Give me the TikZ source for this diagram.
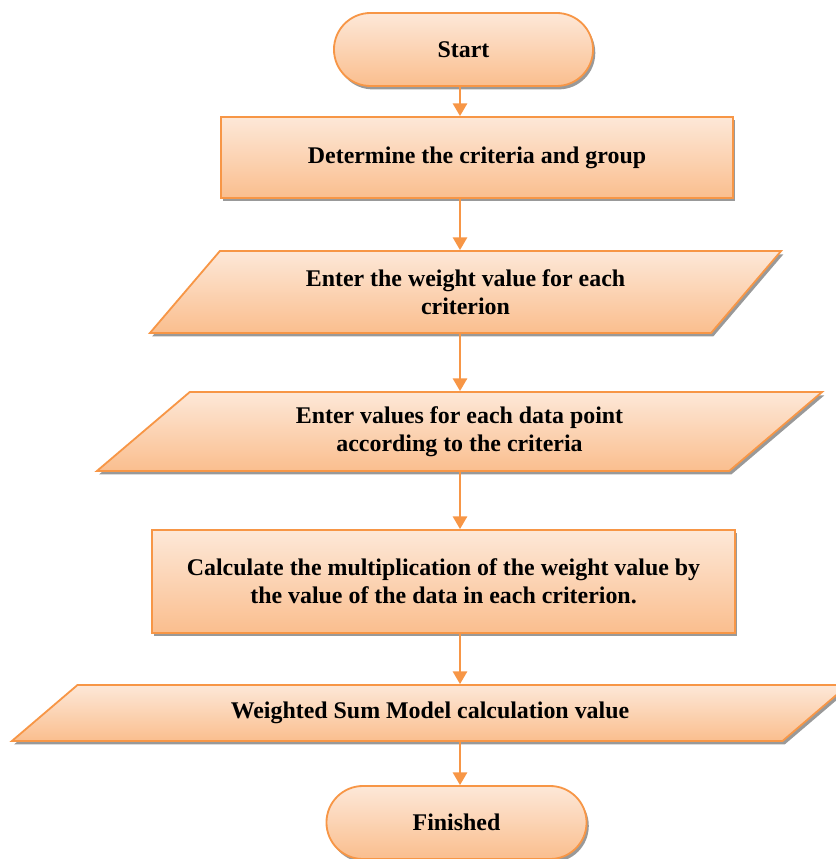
\documentclass[tikz,border=0pt]{standalone}
\usepackage{fontspec}
\setmainfont{Liberation Serif}
\usetikzlibrary{arrows.meta,shapes.misc,shapes.geometric,shadows}

\definecolor{orline}{RGB}{247,150,70}
\definecolor{ortop}{RGB}{253,232,216}
\definecolor{orbot}{RGB}{250,190,142}

\begin{document}
\begin{tikzpicture}[x=0.025cm, y=-0.025cm,
    every node/.style = {draw=orline, line width=1.3pt, align=center,
    top color=ortop, bottom color=orbot, inner sep=0pt,
    font=\fontsize{17}{20}\selectfont\bfseries,
    drop shadow={shadow xshift=1.6pt, shadow yshift=-2.4pt, fill=black, opacity=0.4}},
    term/.style={rounded rectangle},
    proc/.style={rectangle},
    io/.style={trapezium, trapezium stretches body, trapezium left angle=#1,
    trapezium right angle=180-#1},
    flow/.style={draw=orline, line width=1.4pt,
    -{Triangle[width=0.36cm,length=0.32cm]}}]
    \useasboundingbox (0,0) rectangle (835,859);
    \coordinate (spine) at (460,0);
    \node[term, minimum width=6.475cm, minimum height=1.825cm]
        (1) at (463.5,49.5) {Start};
    \node[proc, minimum width=12.8cm, minimum height=2.025cm]
        (2) at (477,157.5) {Determine the criteria and group};
    \node[io=32.85, minimum width=15.775cm, minimum height=2.05cm]
        (3) at (465.5,292) {Enter the weight value for each\\criterion};
    \node[io=28.4, minimum width=18.125cm, minimum height=1.975cm]
        (4) at (459.5,431.5) {Enter values for each data point\\according to the criteria};
    \node[proc, minimum width=14.575cm, minimum height=2.575cm]
        (5) at (443.5,581.5) {Calculate the multiplication of the weight value by\\the value of the data in each criterion.};
    \node[io=18.43, minimum width=20.9cm, minimum height=1.4cm]
        (6) at (430,713) {Weighted Sum Model calculation value};
    \node[term, minimum width=6.5cm, minimum height=1.825cm]
        (7) at (456.5,822.5) {Finished};
    \foreach \a/\b in {1/2,2/3,3/4,4/5,5/6,6/7}
        \draw[flow] (\a.south -| spine) -- (\b.north -| spine);
\end{tikzpicture}
\end{document}
